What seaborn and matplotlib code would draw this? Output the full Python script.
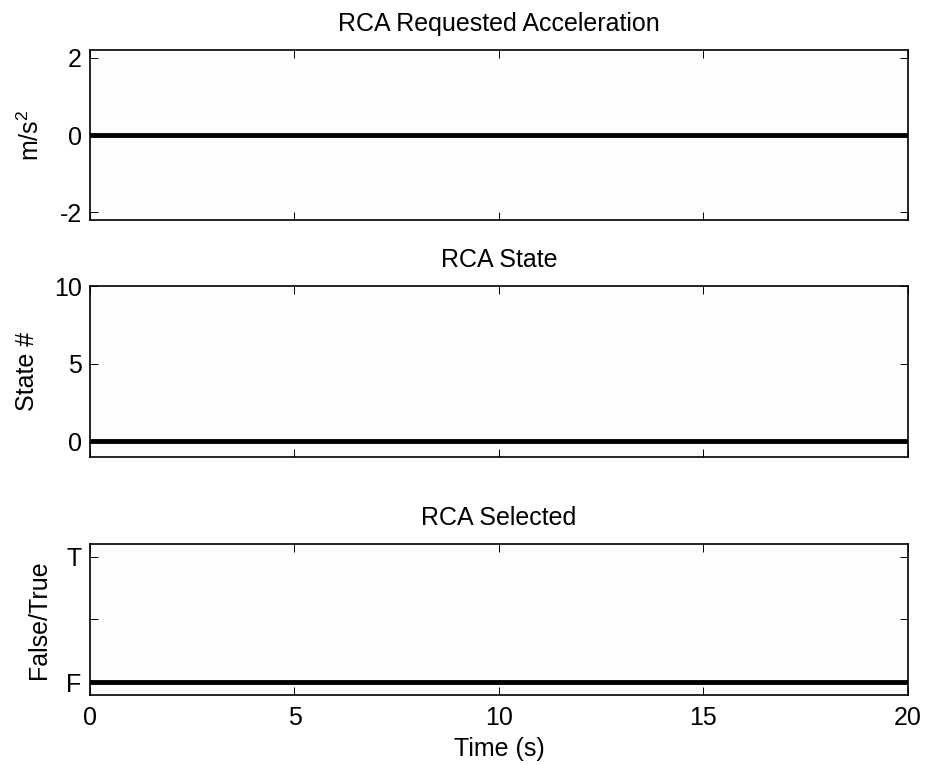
import pandas as pd
import matplotlib
matplotlib.use("Agg")
import matplotlib.pyplot as plt
import seaborn as sns

# signal values (all flat at zero)
time_s = [0, 2, 4, 6, 8, 10, 12, 14, 16, 18, 20]
accel = [0, 0, 0, 0, 0, 0, 0, 0, 0, 0, 0]
state = [0, 0, 0, 0, 0, 0, 0, 0, 0, 0, 0]
selected = [0, 0, 0, 0, 0, 0, 0, 0, 0, 0, 0]

titles = ["RCA Requested Acceleration", "RCA State", "RCA Selected"]
ylabels = ["m/s$^2$", "State #", "False/True"]
xticks = [0, 5, 10, 15, 20]

df = pd.DataFrame({"time": time_s, "accel": accel, "state": state, "selected": selected})

sns.set_style("ticks")
plt.rcParams["font.family"] = ["Liberation Sans", "DejaVu Sans"]
plt.rcParams["mathtext.fontset"] = "custom"
plt.rcParams["mathtext.rm"] = "Liberation Sans"
plt.rcParams["text.color"] = "black"
plt.rcParams["axes.labelcolor"] = "black"
plt.rcParams["xtick.color"] = "black"
plt.rcParams["ytick.color"] = "black"

fig = plt.figure(figsize=(9.25, 7.65), dpi=100)
positions = [
    [0.0973, 0.7124, 0.8843, 0.2222],
    [0.0973, 0.4026, 0.8843, 0.2235],
    [0.0973, 0.0915, 0.8843, 0.1974],
]
cols = ["accel", "state", "selected"]
ylims = [(-2.2, 2.2), (-1, 10), (-0.1, 1.1)]
yticks = [[-2, 0, 2], [0, 5, 10], [0, 0.5, 1]]
yticklabels = [["-2", "0", "2"], ["0", "5", "10"], ["F", "", "T"]]

for i in range(3):
    ax = fig.add_axes(positions[i])
    ax.set_facecolor("#fdfdfd")
    sns.lineplot(data=df, x="time", y=cols[i], ax=ax, color="black", linewidth=3.5)
    ax.set_xlim(0, 20)
    ax.set_ylim(*ylims[i])
    ax.set_xticks(xticks)
    ax.set_yticks(yticks[i])
    ax.set_yticklabels(yticklabels[i])
    ax.set_title(titles[i], fontsize=18, pad=14, color="black")
    ax.set_ylabel(ylabels[i], fontsize=18, labelpad=11)
    if i == 2:
        ax.set_xlabel("Time (s)", fontsize=18, labelpad=5)
    else:
        ax.set_xlabel("")
        ax.set_xticklabels([])
    ax.tick_params(direction="in", length=6, width=0.7, top=True, right=True,
                   labelsize=18)
    ax.tick_params(axis="y", pad=6)
    ax.tick_params(axis="x", pad=8)
    for sp in ax.spines.values():
        sp.set_visible(True)
        sp.set_linewidth(1.2)
        sp.set_color("black")

fig.savefig("out.png", dpi=100, facecolor="white")
